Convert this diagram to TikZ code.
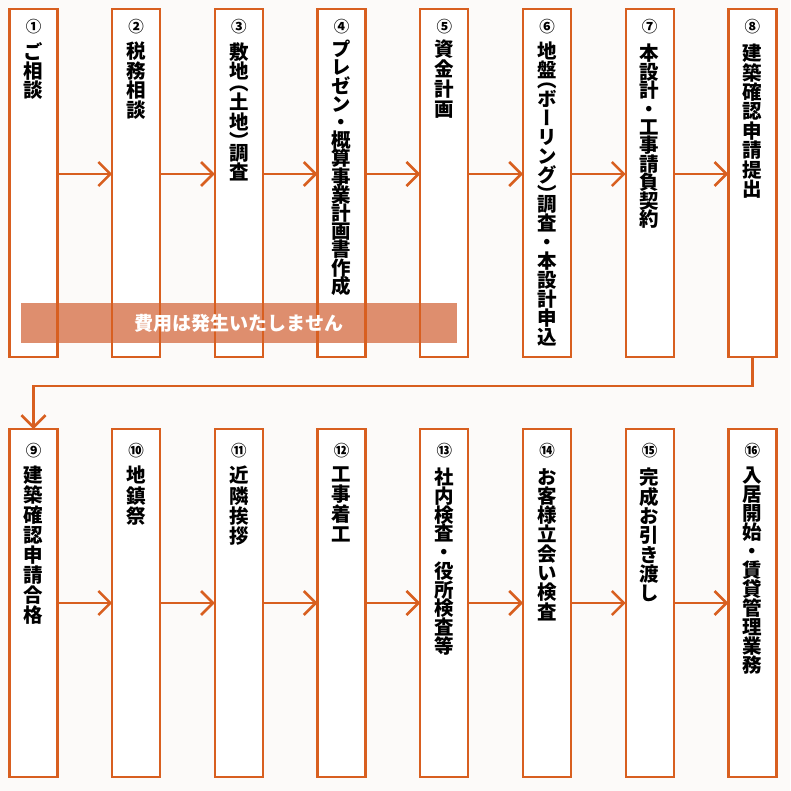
\documentclass[tikz,border=0pt]{standalone}
\usepackage{fontspec}
\usetikzlibrary{arrows.meta}
\newfontfamily\jpv{Noto Sans CJK JP}[RawFeature=+vert]
\newfontfamily\jp{Noto Sans CJK JP}
\definecolor{org}{RGB}{216,95,32}
\definecolor{bann}{RGB}{222,142,110}
\definecolor{bgc}{RGB}{252,250,249}
\newdimen\vtred
\def\vtloop#1{\ifx\relax#1\else\vtchar#1\expandafter\vtloop\fi}
\def\vtchar#1{\ifx#1（\vskip-\vtred\vtbox{#1}\else\ifx#1）\vtbox{#1}\vskip-\vtred\else\vtbox{#1}\fi\fi}
\def\vtbox#1{\hbox to 24pt{\hss#1\hss}}
\newcommand\vstack[3]{\vbox{\baselineskip=#1pt\lineskiplimit=-100pt\lineskip=0pt\vtred=#2pt\relax\vtloop#3\relax}}
\newcommand\fstep[9]{%
  \node[box] (b#1) at (#2,#3) {};
  \node[num] (n#1) at (#2,#4) {#5};
  \node[vtxt] (t#1) at (#2,#6) {\vstack{#7}{#8}{#9}};
}
\begin{document}
\begin{tikzpicture}[x=1pt,y=-1pt,
  box/.style={draw=org, line width=2.3pt, fill=white, minimum width=48pt, minimum height=348pt, inner sep=0pt, outer sep=0pt},
  vtxt/.style={anchor=north, inner sep=0pt, font=\jpv\bfseries\fontsize{19.5}{19.5}\selectfont},
  num/.style={inner sep=0pt, font=\jp\bfseries\fontsize{15.5}{15.5}\selectfont},
  flow/.style={draw=org, line width=2.6pt, -{Straight Barb[length=12pt,width=24pt]}},
  banner/.style={fill=bann, minimum width=436pt, minimum height=40pt, inner sep=0pt},
  bantext/.style={inner sep=0pt, text=white, font=\jp\bfseries\fontsize{19}{19}\selectfont},
  outline/.style={draw=org, line width=2.3pt}]
\fill[bgc] (0,0) rectangle (790,791);
\useasboundingbox (0,0) rectangle (790,791);
% top row
\fstep{1}{33.5}{183}{27}{①}{42}{19}{0}{ご相談}
\fstep{2}{136.2}{183}{27}{②}{42}{19.5}{0}{税務相談}
\fstep{3}{238.9}{183}{27}{③}{42}{19.5}{8}{敷地（土地）調査}
\fstep{4}{341.6}{183}{27}{④}{40}{18.2}{0}{プレゼン・概算事業計画書作成}
\fstep{5}{444.3}{183}{27}{⑤}{40}{20}{0}{資金計画}
\fstep{6}{547.0}{183}{27}{⑥}{42}{19}{9}{地盤（ボーリング）調査・本設計申込}
\fstep{7}{649.7}{183}{27}{⑦}{44}{18.4}{0}{本設計・工事請負契約}
\fstep{8}{752.4}{183}{27}{⑧}{44}{19.4}{0}{建築確認申請提出}
% bottom row
\fstep{9}{33.5}{603}{451}{⑨}{466}{20}{0}{建築確認申請合格}
\fstep{10}{136.2}{603}{451}{⑩}{466}{20.5}{0}{地鎮祭}
\fstep{11}{238.9}{603}{451}{⑪}{466}{20.3}{0}{近隣挨拶}
\fstep{12}{341.6}{603}{451}{⑫}{467}{20}{0}{工事着工}
\fstep{13}{444.3}{603}{451}{⑬}{468}{18.7}{0}{社内検査・役所検査等}
\fstep{14}{547.0}{603}{451}{⑭}{468}{19.3}{0}{お客様立会い検査}
\fstep{15}{649.7}{603}{451}{⑮}{468}{19.3}{0}{完成お引き渡し}
\fstep{16}{752.4}{603}{451}{⑯}{467}{19}{0}{入居開始・賃貸管理業務}
% banner
\node[banner] (ban) at (239,323) {};
\foreach \i in {1,...,5} \draw[outline] (b\i.north west) rectangle (b\i.south east);
\node[bantext] (bantxt) at (ban.center) {費用は発生いたしません};
% arrows
\foreach \a/\b in {1/2,2/3,3/4,4/5,5/6,6/7,7/8}
  \draw[flow] ([yshift=9pt]b\a.east) -- ([yshift=9pt]b\b.west);
\foreach \a/\b in {9/10,10/11,11/12,12/13,13/14,14/15,15/16}
  \draw[flow] (b\a.east) -- (b\b.west);
\draw[flow] (b8.south) -- ++(0,29) -| (b9.north);
\end{tikzpicture}
\end{document}
